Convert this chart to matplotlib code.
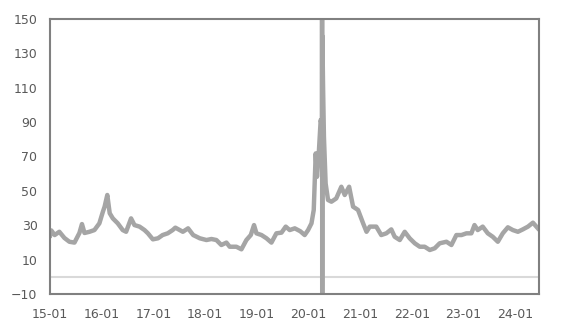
import matplotlib
matplotlib.use('Agg')
import matplotlib.pyplot as plt
import matplotlib.dates as mdates
import pandas as pd

# values
dates = ['2015-01-02', '2015-01-10', '2015-02-03', '2015-03-08', '2015-04-13', '2015-05-18',
         '2015-06-23', '2015-07-28', '2015-08-15', '2015-09-02', '2015-10-07', '2015-11-11',
         '2015-12-16', '2016-01-10', '2016-01-22', '2016-02-10', '2016-02-27', '2016-03-20',
         '2016-04-24', '2016-05-29', '2016-06-22', '2016-07-27', '2016-08-20', '2016-09-25',
         '2016-10-30', '2016-11-23', '2016-12-28', '2017-02-02', '2017-03-07', '2017-04-12',
         '2017-05-17', '2017-06-05', '2017-07-06', '2017-07-28', '2017-09-03', '2017-10-09',
         '2017-11-25', '2018-01-11', '2018-02-15', '2018-03-22', '2018-04-26', '2018-06-01',
         '2018-06-24', '2018-08-10', '2018-09-15', '2018-10-20', '2018-11-20', '2018-12-13',
         '2018-12-30', '2019-02-04', '2019-03-11', '2019-04-15', '2019-05-20', '2019-06-25',
         '2019-07-25', '2019-08-22', '2019-09-27', '2019-11-05', '2019-12-06', '2019-12-30',
         '2020-01-23', '2020-02-08', '2020-02-22', '2020-03-02', '2020-03-16', '2020-03-28',
         '2020-04-06', '2020-04-07', '2020-04-08', '2020-04-09', '2020-04-14', '2020-04-20',
         '2020-05-02', '2020-05-19', '2020-06-12', '2020-07-16', '2020-08-21', '2020-09-14',
         '2020-10-15', '2020-11-12', '2020-12-17', '2021-01-22', '2021-02-15', '2021-03-10',
         '2021-04-25', '2021-05-30', '2021-07-05', '2021-08-09', '2021-09-02', '2021-10-08',
         '2021-11-12', '2021-12-17', '2022-01-22', '2022-02-26', '2022-04-02', '2022-05-08',
         '2022-06-12', '2022-07-17', '2022-09-03', '2022-10-08', '2022-11-12', '2022-12-18',
         '2023-01-22', '2023-02-26', '2023-03-20', '2023-04-12', '2023-05-17', '2023-06-22',
         '2023-07-27', '2023-09-01', '2023-10-06', '2023-11-11', '2023-12-16', '2024-01-21',
         '2024-02-25', '2024-04-01', '2024-05-06', '2024-06-10']
values = [24, 27, 24.3, 26.2, 22.6, 20.4,
          19.9, 25.5, 30.7, 25.5, 26.2, 27.2,
          31.1, 37.9, 40.8, 47.6, 37, 34,
          31.1, 27.2, 26.2, 34, 30.1, 29.2,
          27.2, 25.3, 21.8, 22.4, 24.3, 25.3,
          27.2, 28.6, 27.2, 26.2, 28.2, 24.3,
          22.4, 21.4, 22, 21.4, 18.5, 19.9,
          17.5, 17.5, 16, 21.4, 24.3, 30.1,
          25.3, 24.3, 22.4, 19.9, 25.3, 25.7,
          29.2, 27.2, 28.2, 26.5, 24.3, 27.2,
          31.1, 38.9, 71.8, 58.2, 73.8, 91.2,
          88, 250, -40, 140, 110, 81.5,
          54.3, 44.7, 43.7, 45.6, 52.4, 47.6,
          52.4, 40.8, 38.9, 31.1, 26.2, 29.2,
          29.2, 24.3, 25.3, 27.6, 23.3, 21.4,
          26.2, 22.4, 19.5, 17.5, 17.5, 15.6,
          16.6, 19.5, 20.4, 18.5, 24.3, 24.3,
          25.3, 25.3, 30.1, 27.2, 29.2, 25.3,
          23.3, 20.4, 25.3, 28.8, 27.2, 26.2,
          27.6, 29.2, 31.5, 28.2]

y_ticks = [-10, 10, 30, 50, 70, 90, 110, 130, 150]
x_ticks = pd.date_range('2015-01-01', '2024-01-01', freq='YS')

dt = pd.to_datetime(dates)

fig = plt.figure(figsize=(5.61, 3.36), dpi=100)
ax = fig.add_axes([0.0891, 0.125, 0.8717, 0.8185])

ax.axhline(0, color='#d9d9d9', linewidth=1.5, zorder=1)
ax.plot(dt, values, color='#a5a5a5', linewidth=3.2, solid_joinstyle='round', zorder=2)

ax.set_ylim(-10, 150)
ax.set_yticks(y_ticks)
ax.set_xlim(pd.Timestamp('2015-01-01'), pd.Timestamp('2024-06-18'))
ax.set_xticks(x_ticks)
ax.xaxis.set_major_formatter(mdates.DateFormatter('%y-%m'))

for s in ax.spines.values():
    s.set_color('#808080')
    s.set_linewidth(1.5)

ax.tick_params(axis='both', length=0, labelsize=9, labelcolor='#595959')
ax.tick_params(axis='y', pad=9)
ax.tick_params(axis='x', pad=10)

fig.savefig('out.png', dpi=100)
